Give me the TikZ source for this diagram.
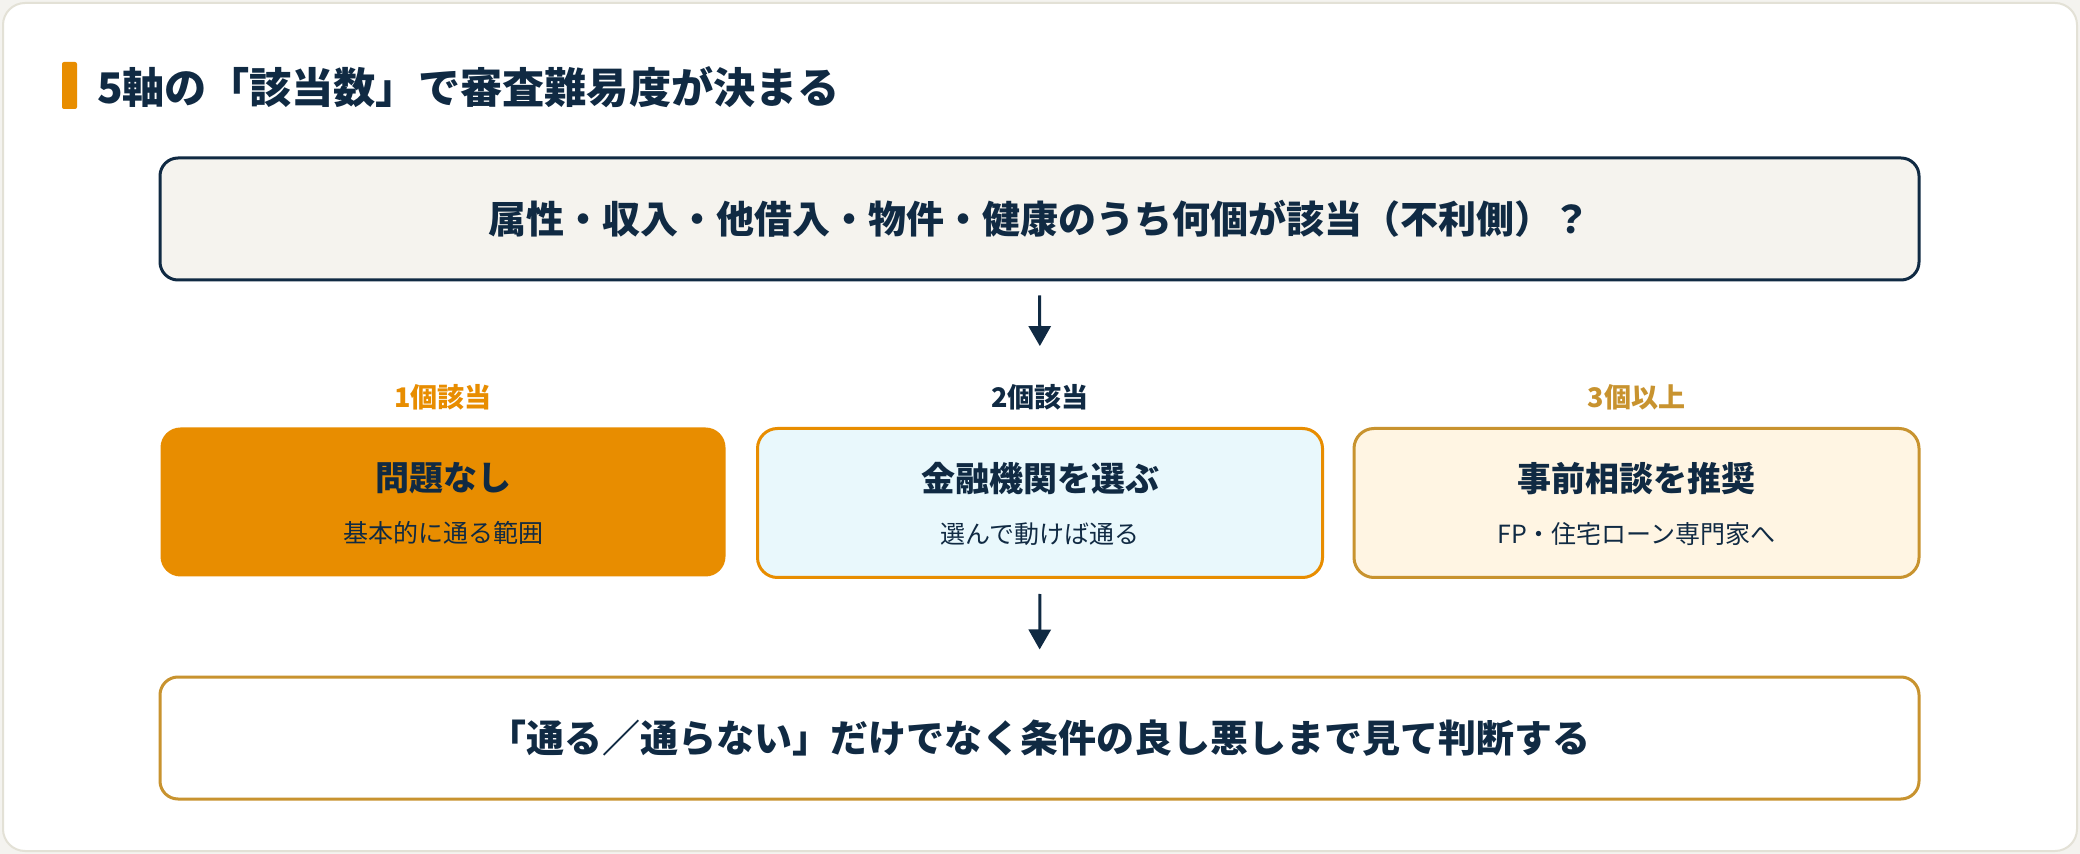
\documentclass[tikz,border=0pt]{standalone}
\usepackage{fontspec}
\setmainfont{Noto Sans CJK JP}
\usetikzlibrary{arrows.meta}

\definecolor{navy}{HTML}{102A43}
\definecolor{amber}{HTML}{E88D00}
\definecolor{gold}{HTML}{C8932F}
\definecolor{paper}{HTML}{F5F3EE}
\definecolor{icefill}{HTML}{E9F8FC}
\definecolor{creamfill}{HTML}{FFF5E3}
\definecolor{edge}{HTML}{E3E1D6}

\tikzset{
  box/.style={rounded corners=10pt, minimum width=282.5pt, minimum height=74.5pt, line width=1.5pt},
  wide/.style={rounded corners=9pt, minimum width=879.5pt, minimum height=61pt, line width=1.5pt,
    font=\bfseries\fontsize{19}{22}\selectfont, text=navy},
  head/.style={font=\bfseries\fontsize{17}{20}\selectfont, text=navy},
  sub/.style={font=\fontsize{12.5}{15}\selectfont, text=navy},
  count/.style={font=\bfseries\fontsize{13.5}{16}\selectfont},
  flow/.style={-{Triangle[width=11pt,length=10pt]}, line width=1.5pt, navy}
}

\begin{document}
\begin{tikzpicture}[x=0.5pt,y=-0.5pt]
    % Background
    \useasboundingbox (0,0) rectangle (2080,854);
    \fill[edge!40] (0,0) rectangle (2080,854);
    \draw[edge, line width=1pt, fill=white, rounded corners=11pt] (3,3) rectangle (2077,851);
    % Title
    \fill[amber, rounded corners=1pt] (62,62) rectangle (77,109);
    \node[anchor=west, text=navy, font=\bfseries\fontsize{21.1}{25}\selectfont] (title) at (90,87) {5軸の「該当数」で審査難易度が決まる};
    % Question
    \node[wide, draw=navy, fill=paper] (ask) at (1039.5,219) {属性・収入・他借入・物件・健康のうち何個が該当（不利側）？};
    % Counts
    \node[count, text=amber] (lbl1) at (443,397) {1個該当};
    \node[count, text=navy] (lbl2) at (1040,397) {2個該当};
    \node[count, text=gold] (lbl3) at (1636.5,397) {3個以上};
    % Cases
    \node[box, fill=amber] (case1) at (443,502) {};
    \node[box, draw=amber, fill=icefill] (case2) at (1040,503) {};
    \node[box, draw=gold, fill=creamfill] (case3) at (1636.5,503) {};
    \node[head] (head1) at (443,478) {問題なし};
    \node[sub] (sub1) at (443,533) {基本的に通る範囲};
    \node[head] (head2) at (1040,479) {金融機関を選ぶ};
    \node[sub] (sub2) at (1040,534) {選んで動けば通る};
    \node[head] (head3) at (1636.5,479) {事前相談を推奨};
    \node[sub] (sub3) at (1636.5,534) {FP・住宅ローン専門家へ};
    % Conclusion
    \node[wide, draw=gold, fill=white] (sum) at (1039.5,738) {「通る／通らない」だけでなく条件の良し悪しまで見て判断する};
    % Arrows
    \draw[flow, shorten <=7pt, shorten >=15.5pt] (ask.south) -- (lbl2.north);
    \draw[flow, shorten <=7.5pt, shorten >=13pt] (case2.south) -- (sum.north);
\end{tikzpicture}
\end{document}
